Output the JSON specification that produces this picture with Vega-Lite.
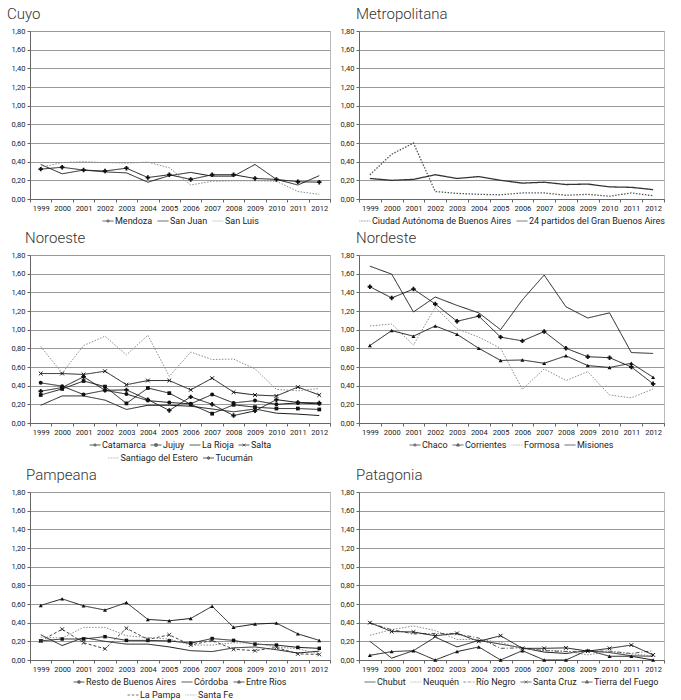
{
"$schema": "https://vega.github.io/schema/vega-lite/v6.json",
"padding": {"left": 6, "top": 6, "right": 5, "bottom": 2},
"config": {
  "font": "Roboto",
  "view": {"stroke": "#bbb"},
  "title": {"font": "Roboto", "fontSize": 15, "fontWeight": 300, "color": "#333", "anchor": "start", "frame": "group", "offset": 5},
  "axisX": {"labelAngle": 0, "title": null, "labelFontSize": 7.5, "labelColor": "#222", "tickSize": 3, "tickColor": "#666", "domainColor": "#666", "labelPadding": 2, "grid": false},
  "axisY": {"title": null, "labelFontSize": 7.5, "labelColor": "#222", "tickSize": 3, "tickColor": "#666", "domainColor": "#666", "gridColor": "#999", "grid": true, "labelPadding": 2},
  "legend": {"title": null, "orient": "bottom", "direction": "horizontal", "symbolSize": 121, "symbolStrokeWidth": 1, "labelFont": "Roboto", "labelFontSize": 9, "labelColor": "#222", "columnPadding": 2, "rowPadding": 1, "labelOffset": 1, "padding": 0, "offset": 3, "layout": {"bottom": {"anchor": "middle", "direction": "vertical", "center": true, "margin": 2}}}
},
"datasets": {"d": [
{"region":"Cuyo","serie":"Mendoza","year":"1999","value":0.32},{"region":"Cuyo","serie":"Mendoza","year":"2000","value":0.34},{"region":"Cuyo","serie":"Mendoza","year":"2001","value":0.31},{"region":"Cuyo","serie":"Mendoza","year":"2002","value":0.30},{"region":"Cuyo","serie":"Mendoza","year":"2003","value":0.33},{"region":"Cuyo","serie":"Mendoza","year":"2004","value":0.23},{"region":"Cuyo","serie":"Mendoza","year":"2005","value":0.26},{"region":"Cuyo","serie":"Mendoza","year":"2006","value":0.21},{"region":"Cuyo","serie":"Mendoza","year":"2007","value":0.26},{"region":"Cuyo","serie":"Mendoza","year":"2008","value":0.26},{"region":"Cuyo","serie":"Mendoza","year":"2009","value":0.22},{"region":"Cuyo","serie":"Mendoza","year":"2010","value":0.21},{"region":"Cuyo","serie":"Mendoza","year":"2011","value":0.185},{"region":"Cuyo","serie":"Mendoza","year":"2012","value":0.18},
{"region":"Cuyo","serie":"San Juan","year":"1999","value":0.37},{"region":"Cuyo","serie":"San Juan","year":"2000","value":0.27},{"region":"Cuyo","serie":"San Juan","year":"2001","value":0.31},{"region":"Cuyo","serie":"San Juan","year":"2002","value":0.29},{"region":"Cuyo","serie":"San Juan","year":"2003","value":0.28},{"region":"Cuyo","serie":"San Juan","year":"2004","value":0.18},{"region":"Cuyo","serie":"San Juan","year":"2005","value":0.25},{"region":"Cuyo","serie":"San Juan","year":"2006","value":0.285},{"region":"Cuyo","serie":"San Juan","year":"2007","value":0.245},{"region":"Cuyo","serie":"San Juan","year":"2008","value":0.245},{"region":"Cuyo","serie":"San Juan","year":"2009","value":0.37},{"region":"Cuyo","serie":"San Juan","year":"2010","value":0.21},{"region":"Cuyo","serie":"San Juan","year":"2011","value":0.15},{"region":"Cuyo","serie":"San Juan","year":"2012","value":0.25},
{"region":"Cuyo","serie":"San Luis","year":"1999","value":0.34},{"region":"Cuyo","serie":"San Luis","year":"2000","value":0.39},{"region":"Cuyo","serie":"San Luis","year":"2001","value":0.40},{"region":"Cuyo","serie":"San Luis","year":"2002","value":0.39},{"region":"Cuyo","serie":"San Luis","year":"2003","value":0.385},{"region":"Cuyo","serie":"San Luis","year":"2004","value":0.395},{"region":"Cuyo","serie":"San Luis","year":"2005","value":0.335},{"region":"Cuyo","serie":"San Luis","year":"2006","value":0.15},{"region":"Cuyo","serie":"San Luis","year":"2007","value":0.19},{"region":"Cuyo","serie":"San Luis","year":"2008","value":0.195},{"region":"Cuyo","serie":"San Luis","year":"2009","value":0.195},{"region":"Cuyo","serie":"San Luis","year":"2010","value":0.19},{"region":"Cuyo","serie":"San Luis","year":"2011","value":0.08},{"region":"Cuyo","serie":"San Luis","year":"2012","value":0.05},
{"region":"Metropolitana","serie":"Ciudad Autónoma de Buenos Aires","year":"1999","value":0.26},{"region":"Metropolitana","serie":"Ciudad Autónoma de Buenos Aires","year":"2000","value":0.48},{"region":"Metropolitana","serie":"Ciudad Autónoma de Buenos Aires","year":"2001","value":0.60},{"region":"Metropolitana","serie":"Ciudad Autónoma de Buenos Aires","year":"2002","value":0.08},{"region":"Metropolitana","serie":"Ciudad Autónoma de Buenos Aires","year":"2003","value":0.06},{"region":"Metropolitana","serie":"Ciudad Autónoma de Buenos Aires","year":"2004","value":0.05},{"region":"Metropolitana","serie":"Ciudad Autónoma de Buenos Aires","year":"2005","value":0.045},{"region":"Metropolitana","serie":"Ciudad Autónoma de Buenos Aires","year":"2006","value":0.065},{"region":"Metropolitana","serie":"Ciudad Autónoma de Buenos Aires","year":"2007","value":0.065},{"region":"Metropolitana","serie":"Ciudad Autónoma de Buenos Aires","year":"2008","value":0.04},{"region":"Metropolitana","serie":"Ciudad Autónoma de Buenos Aires","year":"2009","value":0.05},{"region":"Metropolitana","serie":"Ciudad Autónoma de Buenos Aires","year":"2010","value":0.03},{"region":"Metropolitana","serie":"Ciudad Autónoma de Buenos Aires","year":"2011","value":0.065},{"region":"Metropolitana","serie":"Ciudad Autónoma de Buenos Aires","year":"2012","value":0.035},
{"region":"Metropolitana","serie":"24 partidos del Gran Buenos Aires","year":"1999","value":0.22},{"region":"Metropolitana","serie":"24 partidos del Gran Buenos Aires","year":"2000","value":0.20},{"region":"Metropolitana","serie":"24 partidos del Gran Buenos Aires","year":"2001","value":0.21},{"region":"Metropolitana","serie":"24 partidos del Gran Buenos Aires","year":"2002","value":0.26},{"region":"Metropolitana","serie":"24 partidos del Gran Buenos Aires","year":"2003","value":0.22},{"region":"Metropolitana","serie":"24 partidos del Gran Buenos Aires","year":"2004","value":0.24},{"region":"Metropolitana","serie":"24 partidos del Gran Buenos Aires","year":"2005","value":0.20},{"region":"Metropolitana","serie":"24 partidos del Gran Buenos Aires","year":"2006","value":0.17},{"region":"Metropolitana","serie":"24 partidos del Gran Buenos Aires","year":"2007","value":0.18},{"region":"Metropolitana","serie":"24 partidos del Gran Buenos Aires","year":"2008","value":0.155},{"region":"Metropolitana","serie":"24 partidos del Gran Buenos Aires","year":"2009","value":0.16},{"region":"Metropolitana","serie":"24 partidos del Gran Buenos Aires","year":"2010","value":0.13},{"region":"Metropolitana","serie":"24 partidos del Gran Buenos Aires","year":"2011","value":0.125},{"region":"Metropolitana","serie":"24 partidos del Gran Buenos Aires","year":"2012","value":0.10},
{"region":"Noroeste","serie":"Catamarca","year":"1999","value":0.34},{"region":"Noroeste","serie":"Catamarca","year":"2000","value":0.38},{"region":"Noroeste","serie":"Catamarca","year":"2001","value":0.495},{"region":"Noroeste","serie":"Catamarca","year":"2002","value":0.35},{"region":"Noroeste","serie":"Catamarca","year":"2003","value":0.355},{"region":"Noroeste","serie":"Catamarca","year":"2004","value":0.25},{"region":"Noroeste","serie":"Catamarca","year":"2005","value":0.135},{"region":"Noroeste","serie":"Catamarca","year":"2006","value":0.28},{"region":"Noroeste","serie":"Catamarca","year":"2007","value":0.20},{"region":"Noroeste","serie":"Catamarca","year":"2008","value":0.08},{"region":"Noroeste","serie":"Catamarca","year":"2009","value":0.13},{"region":"Noroeste","serie":"Catamarca","year":"2010","value":0.25},{"region":"Noroeste","serie":"Catamarca","year":"2011","value":0.22},{"region":"Noroeste","serie":"Catamarca","year":"2012","value":0.215},
{"region":"Noroeste","serie":"Jujuy","year":"1999","value":0.30},{"region":"Noroeste","serie":"Jujuy","year":"2000","value":0.365},{"region":"Noroeste","serie":"Jujuy","year":"2001","value":0.45},{"region":"Noroeste","serie":"Jujuy","year":"2002","value":0.39},{"region":"Noroeste","serie":"Jujuy","year":"2003","value":0.21},{"region":"Noroeste","serie":"Jujuy","year":"2004","value":0.375},{"region":"Noroeste","serie":"Jujuy","year":"2005","value":0.32},{"region":"Noroeste","serie":"Jujuy","year":"2006","value":0.20},{"region":"Noroeste","serie":"Jujuy","year":"2007","value":0.10},{"region":"Noroeste","serie":"Jujuy","year":"2008","value":0.195},{"region":"Noroeste","serie":"Jujuy","year":"2009","value":0.17},{"region":"Noroeste","serie":"Jujuy","year":"2010","value":0.155},{"region":"Noroeste","serie":"Jujuy","year":"2011","value":0.155},{"region":"Noroeste","serie":"Jujuy","year":"2012","value":0.145},
{"region":"Noroeste","serie":"La Rioja","year":"1999","value":0.19},{"region":"Noroeste","serie":"La Rioja","year":"2000","value":0.29},{"region":"Noroeste","serie":"La Rioja","year":"2001","value":0.29},{"region":"Noroeste","serie":"La Rioja","year":"2002","value":0.245},{"region":"Noroeste","serie":"La Rioja","year":"2003","value":0.145},{"region":"Noroeste","serie":"La Rioja","year":"2004","value":0.19},{"region":"Noroeste","serie":"La Rioja","year":"2005","value":0.19},{"region":"Noroeste","serie":"La Rioja","year":"2006","value":0.18},{"region":"Noroeste","serie":"La Rioja","year":"2007","value":0.15},{"region":"Noroeste","serie":"La Rioja","year":"2008","value":0.12},{"region":"Noroeste","serie":"La Rioja","year":"2009","value":0.15},{"region":"Noroeste","serie":"La Rioja","year":"2010","value":0.105},{"region":"Noroeste","serie":"La Rioja","year":"2011","value":0.095},{"region":"Noroeste","serie":"La Rioja","year":"2012","value":0.08},
{"region":"Noroeste","serie":"Salta","year":"1999","value":0.53},{"region":"Noroeste","serie":"Salta","year":"2000","value":0.53},{"region":"Noroeste","serie":"Salta","year":"2001","value":0.52},{"region":"Noroeste","serie":"Salta","year":"2002","value":0.555},{"region":"Noroeste","serie":"Salta","year":"2003","value":0.41},{"region":"Noroeste","serie":"Salta","year":"2004","value":0.455},{"region":"Noroeste","serie":"Salta","year":"2005","value":0.455},{"region":"Noroeste","serie":"Salta","year":"2006","value":0.355},{"region":"Noroeste","serie":"Salta","year":"2007","value":0.48},{"region":"Noroeste","serie":"Salta","year":"2008","value":0.33},{"region":"Noroeste","serie":"Salta","year":"2009","value":0.30},{"region":"Noroeste","serie":"Salta","year":"2010","value":0.29},{"region":"Noroeste","serie":"Salta","year":"2011","value":0.385},{"region":"Noroeste","serie":"Salta","year":"2012","value":0.30},
{"region":"Noroeste","serie":"Santiago del Estero","year":"1999","value":0.82},{"region":"Noroeste","serie":"Santiago del Estero","year":"2000","value":0.535},{"region":"Noroeste","serie":"Santiago del Estero","year":"2001","value":0.83},{"region":"Noroeste","serie":"Santiago del Estero","year":"2002","value":0.93},{"region":"Noroeste","serie":"Santiago del Estero","year":"2003","value":0.73},{"region":"Noroeste","serie":"Santiago del Estero","year":"2004","value":0.94},{"region":"Noroeste","serie":"Santiago del Estero","year":"2005","value":0.50},{"region":"Noroeste","serie":"Santiago del Estero","year":"2006","value":0.76},{"region":"Noroeste","serie":"Santiago del Estero","year":"2007","value":0.68},{"region":"Noroeste","serie":"Santiago del Estero","year":"2008","value":0.685},{"region":"Noroeste","serie":"Santiago del Estero","year":"2009","value":0.58},{"region":"Noroeste","serie":"Santiago del Estero","year":"2010","value":0.36},{"region":"Noroeste","serie":"Santiago del Estero","year":"2011","value":0.345},{"region":"Noroeste","serie":"Santiago del Estero","year":"2012","value":0.37},
{"region":"Noroeste","serie":"Tucumán","year":"1999","value":0.43},{"region":"Noroeste","serie":"Tucumán","year":"2000","value":0.395},{"region":"Noroeste","serie":"Tucumán","year":"2001","value":0.305},{"region":"Noroeste","serie":"Tucumán","year":"2002","value":0.35},{"region":"Noroeste","serie":"Tucumán","year":"2003","value":0.31},{"region":"Noroeste","serie":"Tucumán","year":"2004","value":0.24},{"region":"Noroeste","serie":"Tucumán","year":"2005","value":0.22},{"region":"Noroeste","serie":"Tucumán","year":"2006","value":0.205},{"region":"Noroeste","serie":"Tucumán","year":"2007","value":0.305},{"region":"Noroeste","serie":"Tucumán","year":"2008","value":0.215},{"region":"Noroeste","serie":"Tucumán","year":"2009","value":0.24},{"region":"Noroeste","serie":"Tucumán","year":"2010","value":0.20},{"region":"Noroeste","serie":"Tucumán","year":"2011","value":0.215},{"region":"Noroeste","serie":"Tucumán","year":"2012","value":0.205},
{"region":"Nordeste","serie":"Chaco","year":"1999","value":1.46},{"region":"Nordeste","serie":"Chaco","year":"2000","value":1.34},{"region":"Nordeste","serie":"Chaco","year":"2001","value":1.435},{"region":"Nordeste","serie":"Chaco","year":"2002","value":1.275},{"region":"Nordeste","serie":"Chaco","year":"2003","value":1.09},{"region":"Nordeste","serie":"Chaco","year":"2004","value":1.145},{"region":"Nordeste","serie":"Chaco","year":"2005","value":0.92},{"region":"Nordeste","serie":"Chaco","year":"2006","value":0.88},{"region":"Nordeste","serie":"Chaco","year":"2007","value":0.98},{"region":"Nordeste","serie":"Chaco","year":"2008","value":0.80},{"region":"Nordeste","serie":"Chaco","year":"2009","value":0.71},{"region":"Nordeste","serie":"Chaco","year":"2010","value":0.70},{"region":"Nordeste","serie":"Chaco","year":"2011","value":0.60},{"region":"Nordeste","serie":"Chaco","year":"2012","value":0.42},
{"region":"Nordeste","serie":"Corrientes","year":"1999","value":0.83},{"region":"Nordeste","serie":"Corrientes","year":"2000","value":0.99},{"region":"Nordeste","serie":"Corrientes","year":"2001","value":0.93},{"region":"Nordeste","serie":"Corrientes","year":"2002","value":1.04},{"region":"Nordeste","serie":"Corrientes","year":"2003","value":0.95},{"region":"Nordeste","serie":"Corrientes","year":"2004","value":0.80},{"region":"Nordeste","serie":"Corrientes","year":"2005","value":0.67},{"region":"Nordeste","serie":"Corrientes","year":"2006","value":0.675},{"region":"Nordeste","serie":"Corrientes","year":"2007","value":0.64},{"region":"Nordeste","serie":"Corrientes","year":"2008","value":0.72},{"region":"Nordeste","serie":"Corrientes","year":"2009","value":0.615},{"region":"Nordeste","serie":"Corrientes","year":"2010","value":0.595},{"region":"Nordeste","serie":"Corrientes","year":"2011","value":0.64},{"region":"Nordeste","serie":"Corrientes","year":"2012","value":0.49},
{"region":"Nordeste","serie":"Formosa","year":"1999","value":1.04},{"region":"Nordeste","serie":"Formosa","year":"2000","value":1.06},{"region":"Nordeste","serie":"Formosa","year":"2001","value":0.835},{"region":"Nordeste","serie":"Formosa","year":"2002","value":1.24},{"region":"Nordeste","serie":"Formosa","year":"2003","value":1.01},{"region":"Nordeste","serie":"Formosa","year":"2004","value":0.92},{"region":"Nordeste","serie":"Formosa","year":"2005","value":0.80},{"region":"Nordeste","serie":"Formosa","year":"2006","value":0.36},{"region":"Nordeste","serie":"Formosa","year":"2007","value":0.58},{"region":"Nordeste","serie":"Formosa","year":"2008","value":0.455},{"region":"Nordeste","serie":"Formosa","year":"2009","value":0.55},{"region":"Nordeste","serie":"Formosa","year":"2010","value":0.30},{"region":"Nordeste","serie":"Formosa","year":"2011","value":0.27},{"region":"Nordeste","serie":"Formosa","year":"2012","value":0.365},
{"region":"Nordeste","serie":"Misiones","year":"1999","value":1.68},{"region":"Nordeste","serie":"Misiones","year":"2000","value":1.595},{"region":"Nordeste","serie":"Misiones","year":"2001","value":1.19},{"region":"Nordeste","serie":"Misiones","year":"2002","value":1.35},{"region":"Nordeste","serie":"Misiones","year":"2003","value":1.26},{"region":"Nordeste","serie":"Misiones","year":"2004","value":1.18},{"region":"Nordeste","serie":"Misiones","year":"2005","value":1.00},{"region":"Nordeste","serie":"Misiones","year":"2006","value":1.32},{"region":"Nordeste","serie":"Misiones","year":"2007","value":1.585},{"region":"Nordeste","serie":"Misiones","year":"2008","value":1.245},{"region":"Nordeste","serie":"Misiones","year":"2009","value":1.125},{"region":"Nordeste","serie":"Misiones","year":"2010","value":1.18},{"region":"Nordeste","serie":"Misiones","year":"2011","value":0.755},{"region":"Nordeste","serie":"Misiones","year":"2012","value":0.745},
{"region":"Pampeana","serie":"Resto de Buenos Aires","year":"1999","value":0.205},{"region":"Pampeana","serie":"Resto de Buenos Aires","year":"2000","value":0.225},{"region":"Pampeana","serie":"Resto de Buenos Aires","year":"2001","value":0.225},{"region":"Pampeana","serie":"Resto de Buenos Aires","year":"2002","value":0.25},{"region":"Pampeana","serie":"Resto de Buenos Aires","year":"2003","value":0.21},{"region":"Pampeana","serie":"Resto de Buenos Aires","year":"2004","value":0.21},{"region":"Pampeana","serie":"Resto de Buenos Aires","year":"2005","value":0.205},{"region":"Pampeana","serie":"Resto de Buenos Aires","year":"2006","value":0.18},{"region":"Pampeana","serie":"Resto de Buenos Aires","year":"2007","value":0.23},{"region":"Pampeana","serie":"Resto de Buenos Aires","year":"2008","value":0.21},{"region":"Pampeana","serie":"Resto de Buenos Aires","year":"2009","value":0.17},{"region":"Pampeana","serie":"Resto de Buenos Aires","year":"2010","value":0.16},{"region":"Pampeana","serie":"Resto de Buenos Aires","year":"2011","value":0.135},{"region":"Pampeana","serie":"Resto de Buenos Aires","year":"2012","value":0.125},
{"region":"Pampeana","serie":"Córdoba","year":"1999","value":0.27},{"region":"Pampeana","serie":"Córdoba","year":"2000","value":0.155},{"region":"Pampeana","serie":"Córdoba","year":"2001","value":0.24},{"region":"Pampeana","serie":"Córdoba","year":"2002","value":0.20},{"region":"Pampeana","serie":"Córdoba","year":"2003","value":0.17},{"region":"Pampeana","serie":"Córdoba","year":"2004","value":0.17},{"region":"Pampeana","serie":"Córdoba","year":"2005","value":0.14},{"region":"Pampeana","serie":"Córdoba","year":"2006","value":0.10},{"region":"Pampeana","serie":"Córdoba","year":"2007","value":0.09},{"region":"Pampeana","serie":"Córdoba","year":"2008","value":0.13},{"region":"Pampeana","serie":"Córdoba","year":"2009","value":0.14},{"region":"Pampeana","serie":"Córdoba","year":"2010","value":0.11},{"region":"Pampeana","serie":"Córdoba","year":"2011","value":0.075},{"region":"Pampeana","serie":"Córdoba","year":"2012","value":0.095},
{"region":"Pampeana","serie":"Entre Rios","year":"1999","value":0.585},{"region":"Pampeana","serie":"Entre Rios","year":"2000","value":0.655},{"region":"Pampeana","serie":"Entre Rios","year":"2001","value":0.58},{"region":"Pampeana","serie":"Entre Rios","year":"2002","value":0.535},{"region":"Pampeana","serie":"Entre Rios","year":"2003","value":0.615},{"region":"Pampeana","serie":"Entre Rios","year":"2004","value":0.435},{"region":"Pampeana","serie":"Entre Rios","year":"2005","value":0.42},{"region":"Pampeana","serie":"Entre Rios","year":"2006","value":0.445},{"region":"Pampeana","serie":"Entre Rios","year":"2007","value":0.575},{"region":"Pampeana","serie":"Entre Rios","year":"2008","value":0.35},{"region":"Pampeana","serie":"Entre Rios","year":"2009","value":0.385},{"region":"Pampeana","serie":"Entre Rios","year":"2010","value":0.395},{"region":"Pampeana","serie":"Entre Rios","year":"2011","value":0.28},{"region":"Pampeana","serie":"Entre Rios","year":"2012","value":0.21},
{"region":"Pampeana","serie":"La Pampa","year":"1999","value":0.205},{"region":"Pampeana","serie":"La Pampa","year":"2000","value":0.33},{"region":"Pampeana","serie":"La Pampa","year":"2001","value":0.185},{"region":"Pampeana","serie":"La Pampa","year":"2002","value":0.12},{"region":"Pampeana","serie":"La Pampa","year":"2003","value":0.34},{"region":"Pampeana","serie":"La Pampa","year":"2004","value":0.22},{"region":"Pampeana","serie":"La Pampa","year":"2005","value":0.27},{"region":"Pampeana","serie":"La Pampa","year":"2006","value":0.16},{"region":"Pampeana","serie":"La Pampa","year":"2007","value":0.21},{"region":"Pampeana","serie":"La Pampa","year":"2008","value":0.115},{"region":"Pampeana","serie":"La Pampa","year":"2009","value":0.10},{"region":"Pampeana","serie":"La Pampa","year":"2010","value":0.135},{"region":"Pampeana","serie":"La Pampa","year":"2011","value":0.065},{"region":"Pampeana","serie":"La Pampa","year":"2012","value":0.06},
{"region":"Pampeana","serie":"Santa Fe","year":"1999","value":0.245},{"region":"Pampeana","serie":"Santa Fe","year":"2000","value":0.235},{"region":"Pampeana","serie":"Santa Fe","year":"2001","value":0.35},{"region":"Pampeana","serie":"Santa Fe","year":"2002","value":0.35},{"region":"Pampeana","serie":"Santa Fe","year":"2003","value":0.26},{"region":"Pampeana","serie":"Santa Fe","year":"2004","value":0.24},{"region":"Pampeana","serie":"Santa Fe","year":"2005","value":0.225},{"region":"Pampeana","serie":"Santa Fe","year":"2006","value":0.16},{"region":"Pampeana","serie":"Santa Fe","year":"2007","value":0.16},{"region":"Pampeana","serie":"Santa Fe","year":"2008","value":0.185},{"region":"Pampeana","serie":"Santa Fe","year":"2009","value":0.18},{"region":"Pampeana","serie":"Santa Fe","year":"2010","value":0.14},{"region":"Pampeana","serie":"Santa Fe","year":"2011","value":0.12},{"region":"Pampeana","serie":"Santa Fe","year":"2012","value":0.065},
{"region":"Patagonia","serie":"Chubut","year":"1999","value":0.20},{"region":"Patagonia","serie":"Chubut","year":"2000","value":0.02},{"region":"Patagonia","serie":"Chubut","year":"2001","value":0.10},{"region":"Patagonia","serie":"Chubut","year":"2002","value":0.245},{"region":"Patagonia","serie":"Chubut","year":"2003","value":0.14},{"region":"Patagonia","serie":"Chubut","year":"2004","value":0.21},{"region":"Patagonia","serie":"Chubut","year":"2005","value":0.17},{"region":"Patagonia","serie":"Chubut","year":"2006","value":0.13},{"region":"Patagonia","serie":"Chubut","year":"2007","value":0.085},{"region":"Patagonia","serie":"Chubut","year":"2008","value":0.07},{"region":"Patagonia","serie":"Chubut","year":"2009","value":0.10},{"region":"Patagonia","serie":"Chubut","year":"2010","value":0.08},{"region":"Patagonia","serie":"Chubut","year":"2011","value":0.045},{"region":"Patagonia","serie":"Chubut","year":"2012","value":0.04},
{"region":"Patagonia","serie":"Neuquén","year":"1999","value":0.265},{"region":"Patagonia","serie":"Neuquén","year":"2000","value":0.325},{"region":"Patagonia","serie":"Neuquén","year":"2001","value":0.365},{"region":"Patagonia","serie":"Neuquén","year":"2002","value":0.315},{"region":"Patagonia","serie":"Neuquén","year":"2003","value":0.22},{"region":"Patagonia","serie":"Neuquén","year":"2004","value":0.22},{"region":"Patagonia","serie":"Neuquén","year":"2005","value":0.19},{"region":"Patagonia","serie":"Neuquén","year":"2006","value":0.12},{"region":"Patagonia","serie":"Neuquén","year":"2007","value":0.105},{"region":"Patagonia","serie":"Neuquén","year":"2008","value":0.095},{"region":"Patagonia","serie":"Neuquén","year":"2009","value":0.055},{"region":"Patagonia","serie":"Neuquén","year":"2010","value":0.09},{"region":"Patagonia","serie":"Neuquén","year":"2011","value":0.065},{"region":"Patagonia","serie":"Neuquén","year":"2012","value":0.045},
{"region":"Patagonia","serie":"Río Negro","year":"1999","value":0.395},{"region":"Patagonia","serie":"Río Negro","year":"2000","value":0.325},{"region":"Patagonia","serie":"Río Negro","year":"2001","value":0.28},{"region":"Patagonia","serie":"Río Negro","year":"2002","value":0.285},{"region":"Patagonia","serie":"Río Negro","year":"2003","value":0.28},{"region":"Patagonia","serie":"Río Negro","year":"2004","value":0.235},{"region":"Patagonia","serie":"Río Negro","year":"2005","value":0.125},{"region":"Patagonia","serie":"Río Negro","year":"2006","value":0.13},{"region":"Patagonia","serie":"Río Negro","year":"2007","value":0.10},{"region":"Patagonia","serie":"Río Negro","year":"2008","value":0.09},{"region":"Patagonia","serie":"Río Negro","year":"2009","value":0.095},{"region":"Patagonia","serie":"Río Negro","year":"2010","value":0.095},{"region":"Patagonia","serie":"Río Negro","year":"2011","value":0.07},{"region":"Patagonia","serie":"Río Negro","year":"2012","value":0.10},
{"region":"Patagonia","serie":"Santa Cruz","year":"1999","value":0.40},{"region":"Patagonia","serie":"Santa Cruz","year":"2000","value":0.305},{"region":"Patagonia","serie":"Santa Cruz","year":"2001","value":0.30},{"region":"Patagonia","serie":"Santa Cruz","year":"2002","value":0.26},{"region":"Patagonia","serie":"Santa Cruz","year":"2003","value":0.285},{"region":"Patagonia","serie":"Santa Cruz","year":"2004","value":0.20},{"region":"Patagonia","serie":"Santa Cruz","year":"2005","value":0.26},{"region":"Patagonia","serie":"Santa Cruz","year":"2006","value":0.125},{"region":"Patagonia","serie":"Santa Cruz","year":"2007","value":0.125},{"region":"Patagonia","serie":"Santa Cruz","year":"2008","value":0.13},{"region":"Patagonia","serie":"Santa Cruz","year":"2009","value":0.095},{"region":"Patagonia","serie":"Santa Cruz","year":"2010","value":0.125},{"region":"Patagonia","serie":"Santa Cruz","year":"2011","value":0.16},{"region":"Patagonia","serie":"Santa Cruz","year":"2012","value":0.055},
{"region":"Patagonia","serie":"Tierra del Fuego","year":"1999","value":0.05},{"region":"Patagonia","serie":"Tierra del Fuego","year":"2000","value":0.09},{"region":"Patagonia","serie":"Tierra del Fuego","year":"2001","value":0.10},{"region":"Patagonia","serie":"Tierra del Fuego","year":"2002","value":0.0},{"region":"Patagonia","serie":"Tierra del Fuego","year":"2003","value":0.09},{"region":"Patagonia","serie":"Tierra del Fuego","year":"2004","value":0.14},{"region":"Patagonia","serie":"Tierra del Fuego","year":"2005","value":0.0},{"region":"Patagonia","serie":"Tierra del Fuego","year":"2006","value":0.10},{"region":"Patagonia","serie":"Tierra del Fuego","year":"2007","value":0.0},{"region":"Patagonia","serie":"Tierra del Fuego","year":"2008","value":0.0},{"region":"Patagonia","serie":"Tierra del Fuego","year":"2009","value":0.105},{"region":"Patagonia","serie":"Tierra del Fuego","year":"2010","value":0.04},{"region":"Patagonia","serie":"Tierra del Fuego","year":"2011","value":0.04},{"region":"Patagonia","serie":"Tierra del Fuego","year":"2012","value":0.0}
]},
"data": {"name": "d"},
"spacing": 3,
"resolve": {"scale": {"color": "independent", "strokeDash": "independent", "shape": "independent"}, "legend": {"color": "independent", "strokeDash": "independent", "shape": "independent"}},
"vconcat": [
{"hconcat": [
 {"title": {"text": "Cuyo", "dx": -23}, "width": 300, "height": 168,
  "transform": [{"filter": {"field": "region", "equal": "Cuyo"}}],
  "encoding": {"x": {"field": "year", "type": "ordinal", "scale": {"type": "band", "paddingInner": 0, "paddingOuter": 0}, "axis": {"tickBand": "extent"}},
   "y": {"field": "value", "type": "quantitative", "scale": {"domain": [0, 1.8]}, "axis": {"values": [0,0.2,0.4,0.6,0.8,1,1.2,1.4,1.6,1.8], "labelExpr": "replace(format(datum.value, '.2f'), '.', ',')"}}},
  "layer": [
   {"transform": [{"filter": {"field": "value", "lt": -1}}], "mark": {"type": "point", "filled": false},
    "encoding": {"color": {"field": "serie", "scale": {"domain": ["Mendoza","San Juan","San Luis"], "range": ["#1a1a1a","#1a1a1a","#8c8c8c"]}, "legend": {}},
     "shape": {"field": "serie", "scale": {"domain": ["Mendoza","San Juan","San Luis"], "range": ["M-1,0H1M0,-0.32V0.32M-0.32,0H0.32", "M-1,0H1", "M-1,0H-0.86M-0.72,0H-0.58M-0.44,0H-0.3M-0.16,0H-0.02M0.12,0H0.26M0.4,0H0.54M0.68,0H0.82M0.96,0H1"]}, "legend": {}}}},
   {"mark": {"type": "line", "strokeWidth": 1}, "encoding": {"color": {"field": "serie", "scale": {"domain": ["Mendoza","San Juan","San Luis"], "range": ["#1a1a1a","#1a1a1a","#8c8c8c"]}}, "strokeDash": {"field": "serie", "scale": {"domain": ["Mendoza","San Juan","San Luis"], "range": [[1,0],[1,0],[1.5,1.5]]}, "legend": null}}},
   {"transform": [{"filter": {"field": "serie", "oneOf": ["Mendoza"]}}], "mark": {"type": "point", "shape": "cross", "filled": true, "size": 20, "color": "#111", "opacity": 1}}
  ]},
 {"title": {"text": "Metropolitana", "dx": -3}, "width": 305, "height": 168,
  "transform": [{"filter": {"field": "region", "equal": "Metropolitana"}}],
  "encoding": {"x": {"field": "year", "type": "ordinal", "scale": {"type": "band", "paddingInner": 0, "paddingOuter": 0}, "axis": {"tickBand": "extent"}},
   "y": {"field": "value", "type": "quantitative", "scale": {"domain": [0, 1.8]}, "axis": {"values": [0,0.2,0.4,0.6,0.8,1,1.2,1.4,1.6,1.8], "labelExpr": "replace(format(datum.value, '.2f'), '.', ',')"}}},
  "layer": [
   {"transform": [{"filter": {"field": "value", "lt": -1}}], "mark": {"type": "point", "filled": false},
    "encoding": {"color": {"field": "serie", "scale": {"domain": ["Ciudad Autónoma de Buenos Aires","24 partidos del Gran Buenos Aires"], "range": ["#555555","#333333"]}, "legend": {}},
     "shape": {"field": "serie", "scale": {"domain": ["Ciudad Autónoma de Buenos Aires","24 partidos del Gran Buenos Aires"], "range": ["M-1,0H-0.86M-0.72,0H-0.58M-0.44,0H-0.3M-0.16,0H-0.02M0.12,0H0.26M0.4,0H0.54M0.68,0H0.82M0.96,0H1", "M-1,0H1"]}, "legend": {}}}},
   {"mark": {"type": "line", "strokeWidth": 1.3}, "encoding": {"color": {"field": "serie", "scale": {"domain": ["Ciudad Autónoma de Buenos Aires","24 partidos del Gran Buenos Aires"], "range": ["#555555","#333333"]}}, "strokeDash": {"field": "serie", "scale": {"domain": ["Ciudad Autónoma de Buenos Aires","24 partidos del Gran Buenos Aires"], "range": [[1.5,1.5],[1,0]]}, "legend": null}}}
  ]}
], "spacing": 8, "resolve": {"scale": {"color": "independent", "strokeDash": "independent", "shape": "independent"}, "legend": {"color": "independent", "strokeDash": "independent", "shape": "independent"}}},
{"hconcat": [
 {"title": {"text": "Noroeste", "dx": -5}, "width": 300, "height": 168,
  "transform": [{"filter": {"field": "region", "equal": "Noroeste"}}],
  "encoding": {"x": {"field": "year", "type": "ordinal", "scale": {"type": "band", "paddingInner": 0, "paddingOuter": 0}, "axis": {"tickBand": "extent"}},
   "y": {"field": "value", "type": "quantitative", "scale": {"domain": [0, 1.8]}, "axis": {"values": [0,0.2,0.4,0.6,0.8,1,1.2,1.4,1.6,1.8], "labelExpr": "replace(format(datum.value, '.2f'), '.', ',')"}}},
  "resolve": {"scale": {"color": "independent", "shape": "independent"}, "legend": {"color": "independent", "shape": "independent"}},
  "layer": [
   {"transform": [{"filter": {"field": "value", "lt": -1}}], "mark": {"type": "point", "filled": false},
    "encoding": {"color": {"field": "serie", "scale": {"domain": ["Catamarca","Jujuy","La Rioja","Salta"], "range": ["#1a1a1a","#1a1a1a","#1a1a1a","#1a1a1a"]}, "legend": {}},
     "shape": {"field": "serie", "scale": {"domain": ["Catamarca","Jujuy","La Rioja","Salta"], "range": ["M-1,0H1M0,-0.32V0.32M-0.32,0H0.32", "M-1,0H1M-0.22,-0.22H0.22V0.22H-0.22ZM-0.11,-0.11H0.11V0.11H-0.11Z", "M-1,0H1", "M-1,0H1M-0.25,-0.25L0.25,0.25M-0.25,0.25L0.25,-0.25"]}, "legend": {}}}},
   {"transform": [{"filter": {"field": "value", "lt": -1}}], "mark": {"type": "point", "filled": false},
    "encoding": {"color": {"field": "serie", "scale": {"domain": ["Santiago del Estero","Tucumán"], "range": ["#8c8c8c","#1a1a1a"]}, "legend": {}},
     "shape": {"field": "serie", "scale": {"domain": ["Santiago del Estero","Tucumán"], "range": ["M-1,0H-0.86M-0.72,0H-0.58M-0.44,0H-0.3M-0.16,0H-0.02M0.12,0H0.26M0.4,0H0.54M0.68,0H0.82M0.96,0H1", "M-1,0H1M-0.24,0A0.24,0.24,0,1,0,0.24,0A0.24,0.24,0,1,0,-0.24,0M-0.12,0A0.12,0.12,0,1,0,0.12,0A0.12,0.12,0,1,0,-0.12,0"]}, "legend": {}}}},
   {"mark": {"type": "line", "strokeWidth": 1}, "encoding": {"color": {"field": "serie", "scale": {"domain": ["Catamarca","Jujuy","La Rioja","Salta","Santiago del Estero","Tucumán"], "range": ["#1a1a1a","#1a1a1a","#1a1a1a","#1a1a1a","#8c8c8c","#1a1a1a"]}, "legend": null}, "strokeDash": {"field": "serie", "scale": {"domain": ["Catamarca","Jujuy","La Rioja","Salta","Santiago del Estero","Tucumán"], "range": [[1,0],[1,0],[1,0],[1,0],[1.5,1.5],[1,0]]}, "legend": null}}},
   {"transform": [{"filter": {"field": "serie", "oneOf": ["Catamarca"]}}], "mark": {"type": "point", "shape": "cross", "filled": true, "size": 20, "color": "#111", "opacity": 1}},
   {"transform": [{"filter": {"field": "serie", "oneOf": ["Jujuy"]}}], "mark": {"type": "point", "shape": "square", "filled": true, "size": 14, "color": "#111", "opacity": 1}},
   {"transform": [{"filter": {"field": "serie", "oneOf": ["Tucumán"]}}], "mark": {"type": "point", "shape": "circle", "filled": true, "size": 16, "color": "#111", "opacity": 1}},
   {"transform": [{"filter": {"field": "serie", "oneOf": ["Salta"]}}], "mark": {"type": "point", "shape": "M-1,-1L1,1M-1,1L1,-1", "filled": false, "size": 14, "strokeWidth": 1, "color": "#111", "opacity": 1}}
  ]},
 {"title": {"text": "Nordeste", "dx": -3}, "width": 305, "height": 168,
  "transform": [{"filter": {"field": "region", "equal": "Nordeste"}}],
  "encoding": {"x": {"field": "year", "type": "ordinal", "scale": {"type": "band", "paddingInner": 0, "paddingOuter": 0}, "axis": {"tickBand": "extent"}},
   "y": {"field": "value", "type": "quantitative", "scale": {"domain": [0, 1.8]}, "axis": {"values": [0,0.2,0.4,0.6,0.8,1,1.2,1.4,1.6,1.8], "labelExpr": "replace(format(datum.value, '.2f'), '.', ',')"}}},
  "layer": [
   {"transform": [{"filter": {"field": "value", "lt": -1}}], "mark": {"type": "point", "filled": false},
    "encoding": {"color": {"field": "serie", "scale": {"domain": ["Chaco","Corrientes","Formosa","Misiones"], "range": ["#1a1a1a","#1a1a1a","#8c8c8c","#1a1a1a"]}, "legend": {}},
     "shape": {"field": "serie", "scale": {"domain": ["Chaco","Corrientes","Formosa","Misiones"], "range": ["M-1,0H1M0,-0.32V0.32M-0.32,0H0.32", "M-1,0H1M-0.27,0.18L0,-0.3L0.27,0.18ZM-0.13,0.1L0,-0.13L0.13,0.1Z", "M-1,0H-0.86M-0.72,0H-0.58M-0.44,0H-0.3M-0.16,0H-0.02M0.12,0H0.26M0.4,0H0.54M0.68,0H0.82M0.96,0H1", "M-1,0H1"]}, "legend": {}}}},
   {"mark": {"type": "line", "strokeWidth": 1}, "encoding": {"color": {"field": "serie", "scale": {"domain": ["Chaco","Corrientes","Formosa","Misiones"], "range": ["#1a1a1a","#1a1a1a","#8c8c8c","#1a1a1a"]}}, "strokeDash": {"field": "serie", "scale": {"domain": ["Chaco","Corrientes","Formosa","Misiones"], "range": [[1,0],[1,0],[1.5,1.5],[1,0]]}, "legend": null}}},
   {"transform": [{"filter": {"field": "serie", "oneOf": ["Chaco"]}}], "mark": {"type": "point", "shape": "cross", "filled": true, "size": 20, "color": "#111", "opacity": 1}},
   {"transform": [{"filter": {"field": "serie", "oneOf": ["Corrientes"]}}], "mark": {"type": "point", "shape": "triangle-up", "filled": true, "size": 16, "color": "#111", "opacity": 1}}
  ]}
], "spacing": 8, "resolve": {"scale": {"color": "independent", "strokeDash": "independent", "shape": "independent"}, "legend": {"color": "independent", "strokeDash": "independent", "shape": "independent"}}},
{"hconcat": [
 {"title": {"text": "Pampeana", "dx": -4}, "width": 300, "height": 168,
  "transform": [{"filter": {"field": "region", "equal": "Pampeana"}}],
  "encoding": {"x": {"field": "year", "type": "ordinal", "scale": {"type": "band", "paddingInner": 0, "paddingOuter": 0}, "axis": {"tickBand": "extent"}},
   "y": {"field": "value", "type": "quantitative", "scale": {"domain": [0, 1.8]}, "axis": {"values": [0,0.2,0.4,0.6,0.8,1,1.2,1.4,1.6,1.8], "labelExpr": "replace(format(datum.value, '.2f'), '.', ',')"}}},
  "resolve": {"scale": {"color": "independent", "shape": "independent"}, "legend": {"color": "independent", "shape": "independent"}},
  "layer": [
   {"transform": [{"filter": {"field": "value", "lt": -1}}], "mark": {"type": "point", "filled": false},
    "encoding": {"color": {"field": "serie", "scale": {"domain": ["Resto de Buenos Aires","Córdoba","Entre Rios"], "range": ["#1a1a1a","#1a1a1a","#1a1a1a"]}, "legend": {}},
     "shape": {"field": "serie", "scale": {"domain": ["Resto de Buenos Aires","Córdoba","Entre Rios"], "range": ["M-1,0H1M-0.2,-0.2H0.2V0.2H-0.2ZM-0.1,-0.1H0.1V0.1H-0.1Z", "M-1,0H1", "M-1,0H1M-0.27,0.18L0,-0.3L0.27,0.18ZM-0.13,0.1L0,-0.13L0.13,0.1Z"]}, "legend": {}}}},
   {"transform": [{"filter": {"field": "value", "lt": -1}}], "mark": {"type": "point", "filled": false},
    "encoding": {"color": {"field": "serie", "scale": {"domain": ["La Pampa","Santa Fe"], "range": ["#444444","#8c8c8c"]}, "legend": {}},
     "shape": {"field": "serie", "scale": {"domain": ["La Pampa","Santa Fe"], "range": ["M-1,0H-0.55M-0.25,0H0.25M0.55,0H1", "M-1,0H-0.86M-0.72,0H-0.58M-0.44,0H-0.3M-0.16,0H-0.02M0.12,0H0.26M0.4,0H0.54M0.68,0H0.82M0.96,0H1"]}, "legend": {}}}},
   {"mark": {"type": "line", "strokeWidth": 1}, "encoding": {"color": {"field": "serie", "scale": {"domain": ["Resto de Buenos Aires","Córdoba","Entre Rios","La Pampa","Santa Fe"], "range": ["#1a1a1a","#1a1a1a","#1a1a1a","#444444","#8c8c8c"]}, "legend": null}, "strokeDash": {"field": "serie", "scale": {"domain": ["Resto de Buenos Aires","Córdoba","Entre Rios","La Pampa","Santa Fe"], "range": [[1,0],[1,0],[1,0],[3,2],[1.5,1.5]]}, "legend": null}}},
   {"transform": [{"filter": {"field": "serie", "oneOf": ["Resto de Buenos Aires"]}}], "mark": {"type": "point", "shape": "square", "filled": true, "size": 12, "color": "#111", "opacity": 1}},
   {"transform": [{"filter": {"field": "serie", "oneOf": ["Entre Rios"]}}], "mark": {"type": "point", "shape": "triangle-up", "filled": true, "size": 16, "color": "#111", "opacity": 1}},
   {"transform": [{"filter": {"field": "serie", "oneOf": ["La Pampa"]}}], "mark": {"type": "point", "shape": "M-1,-1L1,1M-1,1L1,-1", "filled": false, "size": 14, "strokeWidth": 1, "color": "#333", "opacity": 1}}
  ]},
 {"title": {"text": "Patagonia", "dx": -3}, "width": 305, "height": 168,
  "transform": [{"filter": {"field": "region", "equal": "Patagonia"}}],
  "encoding": {"x": {"field": "year", "type": "ordinal", "scale": {"type": "band", "paddingInner": 0, "paddingOuter": 0}, "axis": {"tickBand": "extent"}},
   "y": {"field": "value", "type": "quantitative", "scale": {"domain": [0, 1.8]}, "axis": {"values": [0,0.2,0.4,0.6,0.8,1,1.2,1.4,1.6,1.8], "labelExpr": "replace(format(datum.value, '.2f'), '.', ',')"}}},
  "layer": [
   {"transform": [{"filter": {"field": "value", "lt": -1}}], "mark": {"type": "point", "filled": false},
    "encoding": {"color": {"field": "serie", "scale": {"domain": ["Chubut","Neuquén","Río Negro","Santa Cruz","Tierra del Fuego"], "range": ["#1a1a1a","#8c8c8c","#555555","#1a1a1a","#1a1a1a"]}, "legend": {}},
     "shape": {"field": "serie", "scale": {"domain": ["Chubut","Neuquén","Río Negro","Santa Cruz","Tierra del Fuego"], "range": ["M-1,0H1", "M-1,0H-0.86M-0.72,0H-0.58M-0.44,0H-0.3M-0.16,0H-0.02M0.12,0H0.26M0.4,0H0.54M0.68,0H0.82M0.96,0H1", "M-1,0H-0.6M-0.4,0H-0.3M-0.1,0H0.3M0.5,0H0.6M0.8,0H1", "M-1,0H1M-0.25,-0.25L0.25,0.25M-0.25,0.25L0.25,-0.25", "M-1,0H1M-0.27,0.18L0,-0.3L0.27,0.18ZM-0.13,0.1L0,-0.13L0.13,0.1Z"]}, "legend": {}}}},
   {"mark": {"type": "line", "strokeWidth": 1}, "encoding": {"color": {"field": "serie", "scale": {"domain": ["Chubut","Neuquén","Río Negro","Santa Cruz","Tierra del Fuego"], "range": ["#1a1a1a","#8c8c8c","#555555","#1a1a1a","#1a1a1a"]}}, "strokeDash": {"field": "serie", "scale": {"domain": ["Chubut","Neuquén","Río Negro","Santa Cruz","Tierra del Fuego"], "range": [[1,0],[1.5,1.5],[4,2,1,2],[1,0],[1,0]]}, "legend": null}}},
   {"transform": [{"filter": {"field": "serie", "oneOf": ["Santa Cruz"]}}], "mark": {"type": "point", "shape": "M-1,-1L1,1M-1,1L1,-1", "filled": false, "size": 14, "strokeWidth": 1, "color": "#111", "opacity": 1}},
   {"transform": [{"filter": {"field": "serie", "oneOf": ["Tierra del Fuego"]}}], "mark": {"type": "point", "shape": "triangle-up", "filled": true, "size": 16, "color": "#111", "opacity": 1}}
  ]}
], "spacing": 8, "resolve": {"scale": {"color": "independent", "strokeDash": "independent", "shape": "independent"}, "legend": {"color": "independent", "strokeDash": "independent", "shape": "independent"}}}
]
}
